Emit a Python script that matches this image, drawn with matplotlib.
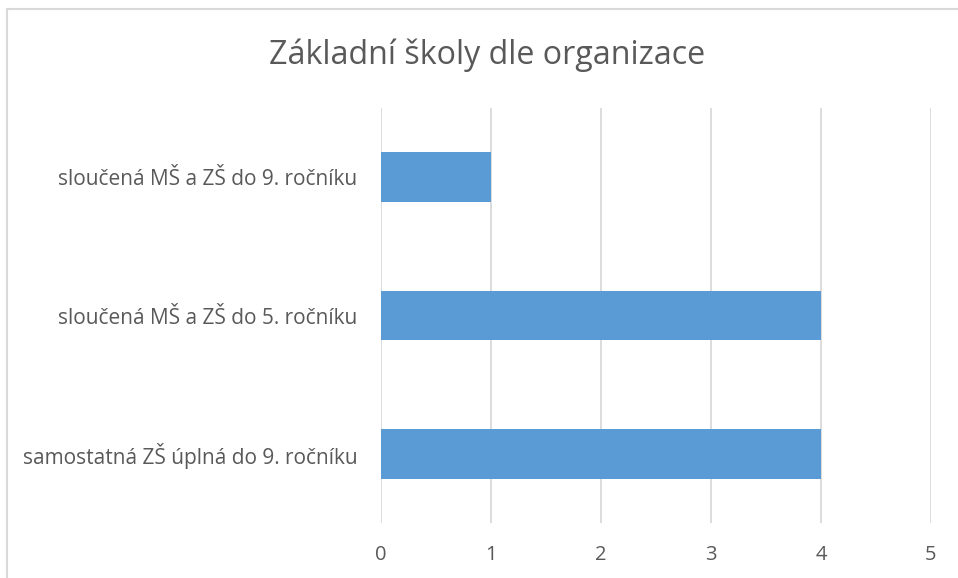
import matplotlib.pyplot as plt
from matplotlib.patches import Rectangle

categories = ['samostatná ZŠ úplná do 9. ročníku',
              'sloučená MŠ a ZŠ do 5. ročníku',
              'sloučená MŠ a ZŠ do 9. ročníku']
values = [4, 4, 1]
x_ticks = [0, 1, 2, 3, 4, 5]

W, H = 958, 578
fig = plt.figure(figsize=(W / 100, H / 100), dpi=100)
ax = fig.add_axes([381 / W, 1 - 523 / H, 550 / W, 415 / H])

text_color = '#595959'
font = 'Open Sans'

ax.barh(range(len(categories)), values, height=0.36, color='#5B9BD5', zorder=3)
ax.set_xlim(0, 5)
ax.set_ylim(-0.5, len(categories) - 0.5)
ax.set_xticks(x_ticks)
ax.set_xticklabels([str(t) for t in x_ticks], fontsize=14.5, color=text_color, family=font)
ax.set_yticks(range(len(categories)))
ax.set_yticklabels(categories, fontsize=15, color=text_color, family=font)
ax.tick_params(length=0, pad=16, axis='x')
ax.tick_params(length=0, pad=17, axis='y')
ax.grid(axis='x', color='#D9D9D9', linewidth=1.3, zorder=0)
for s in ax.spines.values():
    s.set_visible(False)

fig.text(487 / W, 1 - 55 / H, 'Základní školy dle organizace', ha='center', va='center',
         fontsize=23.2, color=text_color, family=font)

# outer chart border
fig.patches.append(Rectangle((7 / W, -0.05), 1.0, 1 - 9 / H + 0.05, transform=fig.transFigure,
                             fill=False, edgecolor='#D9D9D9', linewidth=1.5))

fig.savefig('out.png', dpi=100)
